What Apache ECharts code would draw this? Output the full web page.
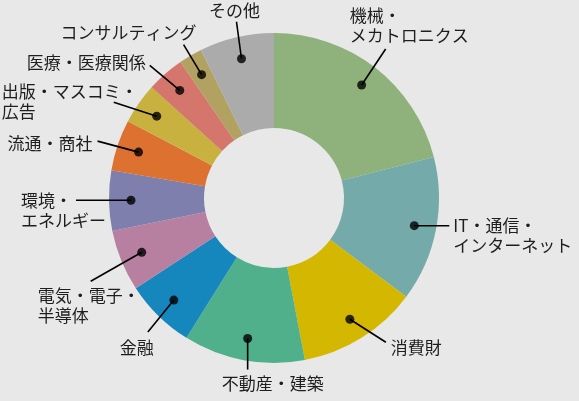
<!DOCTYPE html>
<html>
<head>
<meta charset="utf-8">
<script src="https://cdn.jsdelivr.net/npm/echarts@6/dist/echarts.min.js"></script>
<style>
  html, body { margin: 0; padding: 0; background: #e8e8e8; }
  #chart { width: 579px; height: 401px; }
</style>
</head>
<body>
<div id="chart"></div>
<script>
// 業種別の割合 (%), 12時の位置から時計回り
const categories = [
  '機械・\nメカトロニクス', 'IT・通信・\nインターネット', '消費財', '不動産・建築', '金融',
  '電気・電子・\n半導体', '環境・\nエネルギー', '流通・商社', '出版・マスコミ・\n広告',
  '医療・医療関係', 'コンサルティング', 'その他'
];
const shares = [21.0, 14.2, 11.8, 11.9, 6.9, 6.0, 5.9, 5.0, 4.0, 3.7, 2.3, 7.3];

const colors = [
  '#8fb17b', '#74abaa', '#d4b700', '#50b08b', '#1687bd', '#b880a0',
  '#7f7fae', '#dd7130', '#c9b13f', '#d4766c', '#b1a262', '#ababab'
];

// leader line end (from the dot) and text anchor (from the line end)
const spots = [
  { e: [24, -36], t: [-36, -33], align: 'left' },
  { e: [35, 0],   t: [4, 0],     align: 'left' },
  { e: [36, 23],  t: [5, 5],     align: 'left' },
  { e: [0, 31],   t: [-26, 14],  align: 'left' },
  { e: [-26, 32], t: [-28, 15],  align: 'left' },
  { e: [-51, 29], t: [-53, 14],  align: 'left' },
  { e: [-55, 0],  t: [-55, 0],   align: 'left' },
  { e: [-41, -11], t: [-5, 2],   align: 'right' },
  { e: [-43, -14], t: [-112, -11], align: 'left' },
  { e: [-30, -25], t: [-4, -3],  align: 'right' },
  { e: [-18, -30], t: [13, -12], align: 'right' },
  { e: [-5, -37], t: [-2, -11],  align: 'center' }
];

const total = shares.reduce((a, b) => a + b, 0);
let acc = 0;
const mids = shares.map(function (v) {
  const m = acc + v / 2;
  acc += v;
  return m;
});

const pieData = categories.map(function (name, i) {
  return { name: name, value: shares[i], itemStyle: { color: colors[i] } };
});

const chart = echarts.init(document.getElementById('chart'), null, { renderer: 'canvas' });

chart.setOption({
  backgroundColor: '#e8e8e8',
  animation: false,
  polar: { center: [274, 198], radius: 165 },
  angleAxis: {
    type: 'value', min: 0, max: total, startAngle: 90, clockwise: true, show: false
  },
  radiusAxis: { type: 'value', min: 0, max: 165, show: false },
  series: [
    {
      type: 'pie',
      z: 1,
      center: [274, 198],
      radius: [70, 165],
      startAngle: 90,
      clockwise: true,
      silent: true,
      label: { show: false },
      labelLine: { show: false },
      itemStyle: { borderWidth: 0 },
      data: pieData
    },
    {
      // invisible pie: its edge runs through the dots, carries the labels
      type: 'pie',
      z: 3,
      center: [274, 198],
      radius: [0, 143],
      startAngle: 90,
      clockwise: true,
      silent: true,
      avoidLabelOverlap: false,
      itemStyle: { color: 'rgba(0,0,0,0)', borderWidth: 0 },
      label: {
        show: true,
        position: 'outside',
        color: '#1e1e1e',
        fontFamily: 'Noto Sans CJK JP',
        fontSize: 17,
        lineHeight: 20
      },
      labelLine: {
        show: true,
        length: 20,
        length2: 0,
        lineStyle: { color: '#000', width: 1.6 }
      },
      labelLayout: function (p) {
        const s = spots[p.dataIndex];
        const pts = p.labelLinePoints;
        if (!pts) return {};
        const d = pts[0];
        const ex = d[0] + s.e[0];
        const ey = d[1] + s.e[1];
        return {
          x: ex + s.t[0],
          y: ey + s.t[1] - 10,
          align: s.align,
          verticalAlign: 'top',
          labelLinePoints: [[d[0], d[1]], [ex, ey]]
        };
      },
      data: categories.map(function (name, i) {
        return { name: name, value: shares[i] };
      })
    },
    {
      type: 'scatter',
      coordinateSystem: 'polar',
      symbol: 'circle',
      symbolSize: 9,
      silent: true,
      z: 6,
      itemStyle: { color: '#000' },
      data: mids.map(function (m) { return [143, m]; })
    }
  ]
});
</script>
</body>
</html>
